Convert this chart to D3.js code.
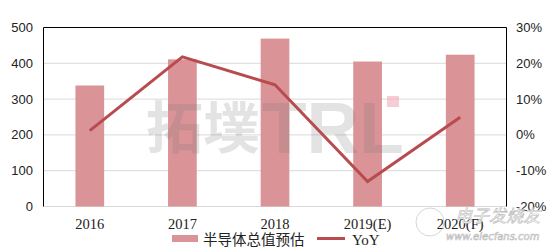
<!DOCTYPE html>
<html>
<head>
<meta charset="utf-8">
<script src="https://cdn.jsdelivr.net/npm/d3@7"></script>
<style>
  body { margin: 0; background: #fff; }
  svg { display: block; }
</style>
</head>
<body>
<div id="chart"></div>
<script>
// data
var years = ["2016", "2017", "2018", "2019(E)", "2020(F)"];
var totals = [338, 411, 469, 405, 424];
var yoy = [1.2, 21.8, 14.0, -13.0, 4.9];
var leftTicks = [0, 100, 200, 300, 400, 500];
var rightTicks = [-20, -10, 0, 10, 20, 30];

var W = 560, H = 250;
var m = {left: 43.5, right: 506.5, top: 27.5, bottom: 206.5};
var barColor = "#da9397", lineColor = "#b84b4f";

var svg = d3.select("#chart").append("svg")
  .attr("width", W).attr("height", H);

var x = d3.scaleBand().domain(years).range([m.left, m.right]).paddingInner(0.69).paddingOuter(0.345);
var yL = d3.scaleLinear().domain([0, 500]).range([m.bottom, m.top]);
var yR = d3.scaleLinear().domain([-20, 30]).range([m.bottom, m.top]);

// gridlines
svg.append("g").selectAll("line").data(leftTicks).join("line")
  .attr("x1", m.left).attr("x2", m.right)
  .attr("y1", function(d){ return yL(d); }).attr("y2", function(d){ return yL(d); })
  .attr("stroke", "#d9d9d9").attr("stroke-width", 1);

// bars
svg.append("g").selectAll("rect").data(totals).join("rect")
  .attr("x", function(d, i){ return x(years[i]); })
  .attr("width", x.bandwidth())
  .attr("y", function(d){ return yL(d); })
  .attr("height", function(d){ return yL(0) - yL(d); })
  .attr("fill", barColor);

// frame: left, top, right
svg.append("path")
  .attr("d", "M" + m.left + "," + m.bottom + "V" + m.top + "H" + m.right + "V" + m.bottom)
  .attr("fill", "none").attr("stroke", "#000").attr("stroke-width", 1);

// watermark
var wm = svg.append("g").attr("opacity", 0.2).attr("fill", "#777")
  .style("font-weight", "bold");
wm.append("text").attr("x", 146).attr("y", 148)
  .style("font-family", "'Noto Sans CJK SC'").style("font-size", "56px")
  .attr("textLength", 114).attr("lengthAdjust", "spacingAndGlyphs")
  .text("拓墣");
wm.append("text").attr("x", 262).attr("y", 153)
  .style("font-family", "'Liberation Sans'").style("font-size", "72px")
  .attr("textLength", 142).attr("lengthAdjust", "spacingAndGlyphs")
  .text("TRL");
svg.append("rect").attr("x", 387).attr("y", 96).attr("width", 12).attr("height", 11)
  .attr("fill", "#f2aab8").attr("opacity", 0.6);

// yoy line
var line = d3.line()
  .x(function(d, i){ return x(years[i]) + x.bandwidth() / 2; })
  .y(function(d){ return yR(d); });
svg.append("path").datum(yoy)
  .attr("d", line)
  .attr("fill", "none").attr("stroke", lineColor).attr("stroke-width", 3)
  .attr("stroke-linejoin", "miter");

// left axis labels
svg.append("g").selectAll("text").data(leftTicks).join("text")
  .attr("x", 33).attr("y", function(d){ return yL(d); })
  .attr("dy", "0.35em").attr("text-anchor", "end")
  .style("font-family", "'Liberation Sans', sans-serif").style("font-size", "13px")
  .attr("fill", "#222")
  .text(function(d){ return d; });

// right axis labels
svg.append("g").selectAll("text").data(rightTicks).join("text")
  .attr("x", 516).attr("y", function(d){ return yR(d); })
  .attr("dy", "0.35em").attr("text-anchor", "start")
  .style("font-family", "'Liberation Sans', sans-serif").style("font-size", "13px")
  .attr("fill", "#222")
  .text(function(d){ return d + "%"; });

// category labels
svg.append("g").selectAll("text").data(years).join("text")
  .attr("x", function(d){ return x(d) + x.bandwidth() / 2; })
  .attr("y", 229)
  .attr("text-anchor", "middle")
  .style("font-family", "'Liberation Serif', serif").style("font-size", "14.5px")
  .attr("fill", "#222")
  .text(function(d){ return d; });

// legend
var lg = svg.append("g");
lg.append("rect").attr("x", 172).attr("y", 235).attr("width", 26).attr("height", 7).attr("fill", barColor);
lg.append("text").attr("x", 203).attr("y", 244.5)
  .style("font-family", "'Noto Sans CJK SC', sans-serif").style("font-size", "14.5px")
  .attr("fill", "#222").text("半导体总值预估");
lg.append("line").attr("x1", 317).attr("x2", 345).attr("y1", 238.5).attr("y2", 238.5)
  .attr("stroke", lineColor).attr("stroke-width", 3);
lg.append("text").attr("x", 352).attr("y", 244.5)
  .style("font-family", "'Liberation Serif', serif").style("font-size", "15px")
  .attr("fill", "#222").text("YoY");

// elecfans watermark
var ef = svg.append("g").attr("fill", "#fff").attr("stroke", "#bbb").attr("stroke-width", 0.6);
ef.append("text").attr("x", 455).attr("y", 222)
  .style("font-family", "'Noto Sans CJK SC'").style("font-size", "17px").style("font-style", "italic")
  .text("电子发烧友");
ef.append("text").attr("x", 446).attr("y", 240)
  .style("font-family", "'DejaVu Sans'").style("font-size", "10px").style("font-style", "italic")
  .text("www.elecfans.com");
ef.append("circle").attr("cx", 430).attr("cy", 222).attr("r", 14).attr("fill", "none");
</script>
</body>
</html>
